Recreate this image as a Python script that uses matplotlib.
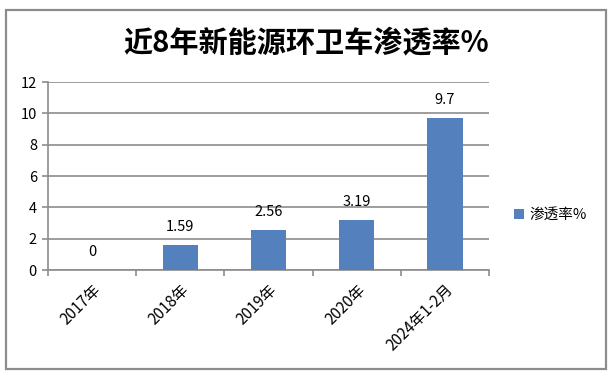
import matplotlib
matplotlib.use("Agg")
import matplotlib.pyplot as plt
from matplotlib.patches import Rectangle
import numpy as np

plt.rcParams["font.family"] = ["Noto Sans CJK SC", "DejaVu Sans"]

CATEGORIES = ["2017年", "2018年", "2019年", "2020年", "2024年1-2月"]
VALUES = [0, 1.59, 2.56, 3.19, 9.7]
VALUE_LABELS = ["0", "1.59", "2.56", "3.19", "9.7"]
SERIES_NAME = "渗透率%"
TITLE = "近8年新能源环卫车渗透率%"

BAR_COLOR = "#5580BE"
GRID_COLOR = "#8C8C8C"

W, H = 610, 378
fig = plt.figure(figsize=(W / 100, H / 100), dpi=100)

# outer chart frame
fig.patches.append(Rectangle((6 / W, 1 - 369 / H), 600 / W, 359 / H,
                             transform=fig.transFigure, fill=False,
                             edgecolor="#8C8C8C", linewidth=1.6))

ax = fig.add_axes([48 / W, 1 - 270 / H, (489 - 48) / W, (270 - 82) / H])
x = np.arange(len(CATEGORIES))
ax.bar(x, VALUES, width=0.4, color=BAR_COLOR, label=SERIES_NAME, zorder=3)

for xi, v, lab in zip(x, VALUES, VALUE_LABELS):
    ax.annotate(lab, (xi, v), xytext=(0, 8), textcoords="offset points",
                ha="center", va="bottom", fontsize=10.5)

ax.set_xlim(-0.5, len(CATEGORIES) - 0.5)
ax.set_ylim(0, 12)
ax.set_yticks(np.arange(0, 13, 2))
ax.yaxis.grid(True, color=GRID_COLOR, linewidth=1.2, zorder=0)
ax.set_axisbelow(True)

ax.set_xticks(x)
ax.set_xticklabels(CATEGORIES, rotation=45, ha="right",
                   rotation_mode="anchor", fontsize=11)
ax.set_xticks(np.arange(-0.5, len(CATEGORIES)), minor=True)
ax.tick_params(axis="x", which="major", length=0, pad=8)
ax.tick_params(axis="x", which="minor", length=4, color=GRID_COLOR, width=1.2)
ax.tick_params(axis="y", length=4, color=GRID_COLOR, width=1.2,
               labelsize=10.5, pad=4)

for side in ("top", "right"):
    ax.spines[side].set_visible(False)
for side in ("left", "bottom"):
    ax.spines[side].set_color(GRID_COLOR)
    ax.spines[side].set_linewidth(1.2)

fig.text(306 / W, 1 - 42 / H, TITLE, ha="center", va="center",
         fontsize=21, fontweight="bold")

fig.legend(loc="center left", bbox_to_anchor=(508 / W, 1 - 215 / H),
           frameon=False, fontsize=10.5, handlelength=0.7, handleheight=0.7,
           handletextpad=0.4, borderaxespad=0)

fig.savefig("out.png", dpi=100)
